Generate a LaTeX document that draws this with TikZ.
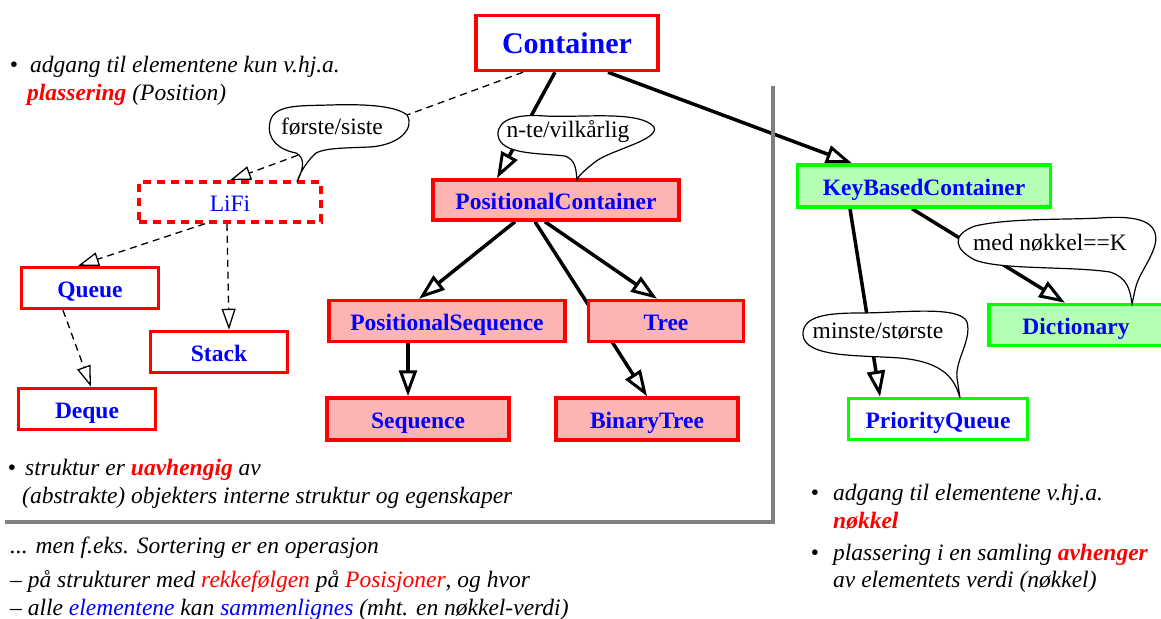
\documentclass[tikz,border=0pt]{standalone}
\usepackage{fontspec}
\setmainfont{Liberation Serif}
\usetikzlibrary{arrows.meta,calc}
\definecolor{myred}{RGB}{255,0,0}
\definecolor{myblue}{RGB}{0,0,255}
\definecolor{mygreen}{RGB}{0,255,0}
\definecolor{pinkfill}{RGB}{255,180,180}
\definecolor{greenfill}{RGB}{180,255,180}
\definecolor{framegray}{RGB}{128,128,128}
\pgfdeclarelayer{background}
\pgfsetlayers{background,main}
\begin{document}
\begin{tikzpicture}[x=1pt,y=-1pt,
  font=\fontsize{23.5}{28}\selectfont,
  box/.style={draw=myred, line width=3.5pt, minimum height=41pt, inner sep=0pt,
     text height=20pt, text depth=2pt,
     font=\fontsize{23.5}{28}\selectfont\bfseries, text=myblue, fill=white},
  pinkbox/.style={box, fill=pinkfill},
  greenbox/.style={box, draw=mygreen, fill=greenfill},
  wgreenbox/.style={box, draw=mygreen, fill=white},
  dashbox/.style={box, dash pattern=on 8pt off 6pt, font=\fontsize{23.5}{28}\selectfont},
  inh/.style={line width=3.5pt, -{Triangle[open, fill=white, length=26pt, width=18pt, line width=3pt]}},
  dinh/.style={line width=1.3pt, dash pattern=on 7pt off 5pt, -{Triangle[open, fill=white, length=21pt, width=14pt, line width=1.3pt]}},
  callout/.style={draw=black, fill=white, line width=1.2pt},
  txt/.style={inner sep=0pt, anchor=base west},
  ctxt/.style={inner sep=0pt, anchor=base},
]
\useasboundingbox (0,0) rectangle (1161,618);

% frame
\draw[framegray, line width=4.5pt] (773,86) -- (773,522) -- (5,522);

% boxes
\node[box, minimum width=182pt, minimum height=55pt, text height=24pt, text depth=3pt, font=\fontsize{30}{34}\selectfont\bfseries] (container) at (567,43) {Container};
\node[dashbox, minimum width=182pt, minimum height=40pt] (lifi) at (230,202) {LiFi};
\node[box, minimum width=137pt] (queue) at (90,288) {Queue};
\node[box, minimum width=137pt] (stack) at (219,352) {Stack};
\node[box, minimum width=137pt] (deque) at (87,409) {Deque};
\node[pinkbox, minimum width=246pt, minimum height=40pt] (pc) at (556,200) {PositionalContainer};
\node[pinkbox, minimum width=236pt] (ps) at (447,321) {PositionalSequence};
\node[pinkbox, minimum width=155pt] (tree) at (666,321) {Tree};
\node[pinkbox, minimum width=182pt, minimum height=42pt] (seq) at (418,419) {Sequence};
\node[pinkbox, minimum width=182pt, minimum height=42pt] (bt) at (647,419) {BinaryTree};
\node[greenbox, minimum width=253pt, minimum height=42pt] (kbc) at (924,186) {KeyBasedContainer};
\node[greenbox, minimum width=174pt] (dict) at (1076,325) {Dictionary};
\node[wgreenbox, minimum width=179pt] (pq) at (938,419) {PriorityQueue};

% edges
\begin{pgfonlayer}{background}
\draw[dinh] ([xshift=-44pt]container.south) -- (lifi.north);
\draw[inh] ([xshift=-12pt]container.south) -- ([xshift=-59pt]pc.north);
\draw[inh] ([xshift=41pt]container.south) -- ([xshift=-72pt]kbc.north);
\draw[dinh] ([xshift=-25pt]lifi.south) -- ([xshift=-12pt]queue.north);
\draw[dinh] ([xshift=-3pt]lifi.south) -- ([xshift=10pt]stack.north);
\draw[dinh] ([xshift=-27pt]queue.south) -- ([xshift=4pt]deque.north);
\draw[inh] ([xshift=-41pt]pc.south) -- ([xshift=-28pt]ps.north);
\draw[inh] ([xshift=-11pt]pc.south) -- ([xshift=-9pt]tree.north);
\draw[inh] ([xshift=-21pt]pc.south) -- (bt.north);
\draw[inh] ([xshift=-39pt]ps.south) -- ([xshift=-10pt]seq.north);
\draw[inh] ([xshift=-74pt]kbc.south) -- ([xshift=-58pt]pq.north);
\draw[inh] ([xshift=-12pt]kbc.south) -- ([xshift=-11pt]dict.north);
\end{pgfonlayer}

% callouts
\draw[callout] (297,182) .. controls (303,170) and (306,158) .. (296,153)
  .. controls (280,150) and (266,140) .. (270,122)
  .. controls (274,104) and (300,106) .. (330,105)
  .. controls (360,104) and (395,105) .. (407,115)
  .. controls (415,128) and (400,145) .. (370,147)
  .. controls (345,148) and (325,148) .. (316,153)
  .. controls (308,160) and (300,172) .. (297,182) -- cycle;
\node[ctxt] (c1) at (332,134) {første/siste};

\draw[callout] (577,180) .. controls (576,170) and (576,160) .. (565,156)
  .. controls (540,153) and (500,155) .. (498,135)
  .. controls (497,118) and (520,114) .. (545,116)
  .. controls (580,118) and (640,110) .. (654,127)
  .. controls (660,140) and (610,150) .. (595,162)
  .. controls (585,170) and (578,176) .. (577,180) -- cycle;
\node[ctxt] (c2) at (568,137) {n-te/vilkårlig};

\draw[callout] (1132,304) .. controls (1130,290) and (1128,278) .. (1110,272)
  .. controls (1070,266) and (1000,270) .. (975,260)
  .. controls (955,250) and (950,235) .. (975,226)
  .. controls (1010,218) and (1060,220) .. (1100,218)
  .. controls (1140,215) and (1160,222) .. (1155,245)
  .. controls (1150,262) and (1138,275) .. (1135,290) -- cycle;
\node[ctxt] (c3) at (1050,250) {med nøkkel==K};

\draw[callout] (960,398) .. controls (955,380) and (945,362) .. (900,358)
  .. controls (860,355) and (805,358) .. (803,335)
  .. controls (802,315) and (830,313) .. (860,313)
  .. controls (900,313) and (960,305) .. (967,322)
  .. controls (972,340) and (955,360) .. (957,378) -- cycle;
\node[ctxt] (c4) at (878,338) {minste/største};

% texts top-left
\node[ctxt] (b1) at (14,72) {•};
\node[txt] (tl1) at (30,72) {\itshape adgang til elementene kun v.hj.a.};
\node[txt] (tl2) at (27,100) {\itshape\textcolor{myred}{\bfseries plassering} (Position)};

% texts bottom-left
\node[ctxt] (b2) at (12,475) {•};
\node[txt] (bl1) at (25,475) {\itshape struktur er \textcolor{myred}{\bfseries uavhengig} av};
\node[txt] (bl2) at (22,503) {\itshape (abstrakte) objekters interne struktur og egenskaper};
\node[txt] (bl3) at (10,553) {\itshape ... men f.eks. Sortering er en operasjon};
\node[txt] (bl4) at (10,587) {\itshape – på strukturer med \textcolor{myred}{rekkefølgen} på \textcolor{myred}{Posisjoner}, og hvor};
\node[txt] (bl5) at (10,615) {\itshape – alle \textcolor{myblue}{elementene} kan \textcolor{myblue}{sammenlignes} (mht. en nøkkel-verdi)};

% texts bottom-right
\node[ctxt] (b3) at (815,500) {•};
\node[txt] (br1) at (833,500) {\itshape adgang til elementene v.hj.a.};
\node[txt] (br2) at (833,528) {\itshape\bfseries\textcolor{myred}{nøkkel}};
\node[ctxt] (b4) at (815,560) {•};
\node[txt] (br3) at (833,560) {\itshape plassering i en samling \textcolor{myred}{\bfseries avhenger}};
\node[txt] (br4) at (833,587) {\itshape av elementets verdi (nøkkel)};
\end{tikzpicture}
\end{document}
